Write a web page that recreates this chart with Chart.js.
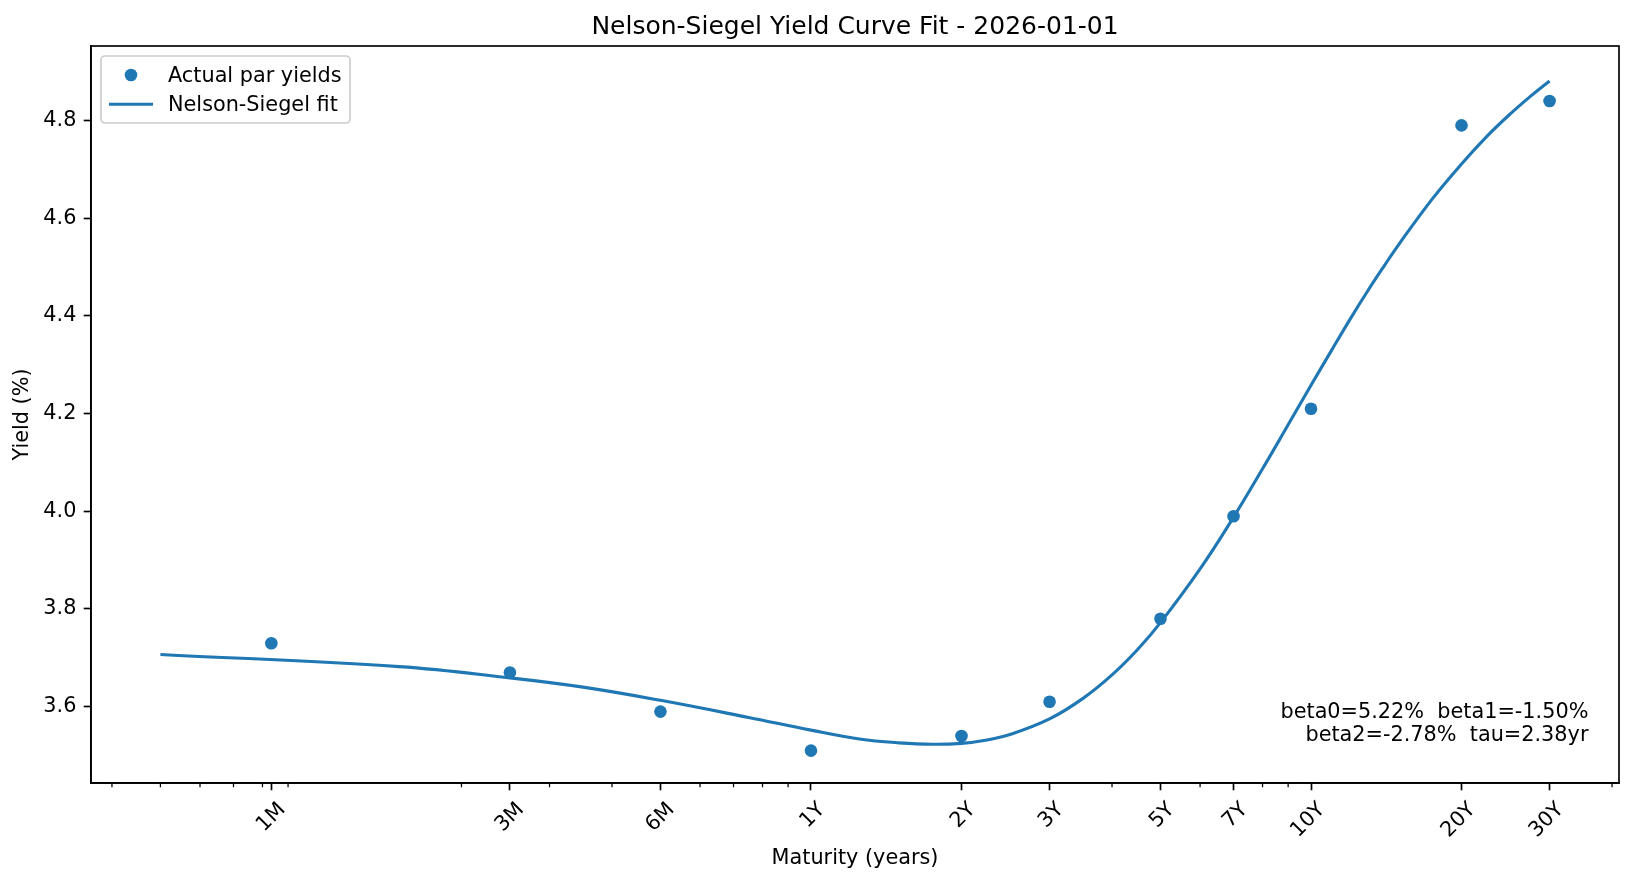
<!DOCTYPE html>
<html>
<head>
<meta charset="utf-8">
<title>Nelson-Siegel Yield Curve Fit</title>
<script src="https://cdn.jsdelivr.net/npm/chart.js@4.4.1/dist/chart.umd.min.js"></script>
<style>
  html, body { margin: 0; padding: 0; background: #fff; }
  canvas { display: block; }
</style>
</head>
<body>
<canvas id="yieldCurveChart" width="1633" height="884"></canvas>
<script>
// maturities (years) of the par yields and their tick labels
const maturities = [1 / 12, 0.25, 0.5, 1, 2, 3, 5, 7, 10, 20, 30];
const maturityLabels = ['1M', '3M', '6M', '1Y', '2Y', '3Y', '5Y', '7Y', '10Y', '20Y', '30Y'];
const parYields = [3.73, 3.67, 3.59, 3.51, 3.54, 3.61, 3.78, 3.99, 4.21, 4.79, 4.84];

// fitted curve
const fitMaturities = [0.05, 0.15, 0.25, 0.35, 0.5, 0.75, 1, 1.25, 1.5, 1.75, 2, 2.25, 2.5, 3, 3.5, 4, 4.5, 5, 6, 7, 8, 9, 10, 11, 12, 13, 14, 15, 17.5, 20, 22.5, 25, 27.5, 30];
const fitYields = [3.707, 3.682, 3.659, 3.640, 3.613, 3.578, 3.552, 3.534, 3.526, 3.523, 3.525, 3.532, 3.543, 3.575, 3.617, 3.665, 3.717, 3.772, 3.882, 3.988, 4.087, 4.177, 4.258, 4.330, 4.395, 4.452, 4.502, 4.547, 4.640, 4.711, 4.768, 4.813, 4.850, 4.881];

const yTicks = [3.6, 3.8, 4.0, 4.2, 4.4, 4.6, 4.8];
const minorTicks = [0.04, 0.05, 0.06, 0.07, 0.08, 0.09, 0.2, 0.3, 0.4, 0.6, 0.7, 0.8, 0.9, 4, 6, 8, 9, 40];

const chartTitle = 'Nelson-Siegel Yield Curve Fit - 2026-01-01';
const fitNote = ['beta0=5.22%  beta1=-1.50%', 'beta2=-2.78%  tau=2.38yr'];
const legendLabels = ['Actual par yields', 'Nelson-Siegel fit'];

const FONT = '"DejaVu Sans", sans-serif';
const BLUE = '#1f77b4';

// frame, minor ticks, title, legend and fit note
const decorations = {
    id: 'decorations',
    afterDraw(chart) {
        const ctx = chart.ctx;
        const a = chart.chartArea;
        const x = chart.scales.x;
        ctx.save();

        ctx.strokeStyle = '#000';
        ctx.lineWidth = 1.67;
        ctx.strokeRect(a.left, a.top, a.right - a.left, a.bottom - a.top);

        ctx.lineWidth = 1.25;
        ctx.beginPath();
        minorTicks.forEach(v => {
            const px = x.getPixelForValue(v);
            ctx.moveTo(px, a.bottom);
            ctx.lineTo(px, a.bottom + 4.2);
        });
        ctx.stroke();

        ctx.fillStyle = '#000';
        ctx.font = '25px ' + FONT;
        ctx.textAlign = 'center';
        ctx.textBaseline = 'alphabetic';
        ctx.fillText(chartTitle, (a.left + a.right) / 2, a.top - 12.5);

        // legend box
        const lx = a.left + 10, ly = a.top + 10;
        ctx.beginPath();
        ctx.roundRect(lx, ly, 249, 67, 4);
        ctx.fillStyle = 'rgba(255,255,255,0.8)';
        ctx.fill();
        ctx.strokeStyle = '#cccccc';
        ctx.lineWidth = 1.67;
        ctx.stroke();

        ctx.fillStyle = BLUE;
        ctx.beginPath();
        ctx.arc(lx + 30, ly + 19, 6.3, 0, Math.PI * 2);
        ctx.fill();
        ctx.strokeStyle = BLUE;
        ctx.lineWidth = 3.1;
        ctx.beginPath();
        ctx.moveTo(lx + 8, ly + 48.3);
        ctx.lineTo(lx + 52, ly + 48.3);
        ctx.stroke();

        ctx.fillStyle = '#000';
        ctx.font = '20.8px ' + FONT;
        ctx.textAlign = 'left';
        ctx.fillText(legendLabels[0], lx + 67, ly + 25.5);
        ctx.fillText(legendLabels[1], lx + 67, ly + 54.8);

        // parameters note, bottom right
        const nx = a.left + 0.98 * (a.right - a.left);
        const nb = a.bottom - 0.05 * (a.bottom - a.top) - 5;
        ctx.textAlign = 'right';
        ctx.fillText(fitNote[1], nx, nb);
        ctx.fillText(fitNote[0], nx, nb - 23.5);

        ctx.restore();
    }
};

const ctx = document.getElementById('yieldCurveChart').getContext('2d');
new Chart(ctx, {
    type: 'scatter',
    data: {
        datasets: [{
            label: legendLabels[1],
            data: fitMaturities.map((m, i) => ({ x: m, y: fitYields[i] })),
            showLine: true,
            borderColor: BLUE,
            borderWidth: 3.1,
            pointRadius: 0,
            tension: 0.4,
            order: 0
        }, {
            label: legendLabels[0],
            data: maturities.map((m, i) => ({ x: m, y: parYields[i] })),
            backgroundColor: BLUE,
            borderWidth: 0,
            pointRadius: 6.3,
            order: 1
        }]
    },
    options: {
        responsive: false,
        animation: false,
        layout: { padding: { top: 46, right: 14, left: 0, bottom: 0 } },
        plugins: {
            legend: { display: false },
            title: { display: false },
            tooltip: { enabled: false }
        },
        scales: {
            x: {
                type: 'logarithmic',
                min: 0.03632,
                max: 41.3,
                bounds: 'data',
                afterBuildTicks: scale => {
                    scale.ticks = maturities.map(v => ({ value: v }));
                },
                afterFit: scale => {
                    scale.height = 101;
                    scale.paddingLeft = 0;
                    scale.paddingRight = 0;
                },
                ticks: {
                    autoSkip: false,
                    minRotation: 45,
                    maxRotation: 45,
                    padding: 7.3,
                    labelOffset: 11,
                    color: '#000',
                    font: { family: FONT, size: 20.8 },
                    callback: (value, index) => maturityLabels[index]
                },
                grid: {
                    drawOnChartArea: false,
                    tickLength: 7.3,
                    tickColor: '#000',
                    tickWidth: 1.67
                },
                border: { display: true, color: '#000', width: 1.67 },
                title: {
                    display: true,
                    text: 'Maturity (years)',
                    color: '#000',
                    font: { family: FONT, size: 20.8 },
                    padding: { top: 0, bottom: 12.5 }
                }
            },
            y: {
                type: 'linear',
                min: 3.4438,
                max: 4.9525,
                afterBuildTicks: scale => {
                    scale.ticks = yTicks.map(v => ({ value: v }));
                },
                afterFit: scale => {
                    scale.width = 91;
                    scale.paddingTop = 0;
                    scale.paddingBottom = 0;
                },
                ticks: {
                    padding: 7.3,
                    color: '#000',
                    font: { family: FONT, size: 20.8 },
                    callback: value => Number(value).toFixed(1)
                },
                grid: {
                    drawOnChartArea: false,
                    tickLength: 7.3,
                    tickColor: '#000',
                    tickWidth: 1.67
                },
                border: { display: true, color: '#000', width: 1.67 },
                title: {
                    display: true,
                    text: 'Yield (%)',
                    color: '#000',
                    font: { family: FONT, size: 20.8 },
                    padding: { top: 10.5, bottom: 0 }
                }
            }
        }
    },
    plugins: [decorations]
});
</script>
</body>
</html>
